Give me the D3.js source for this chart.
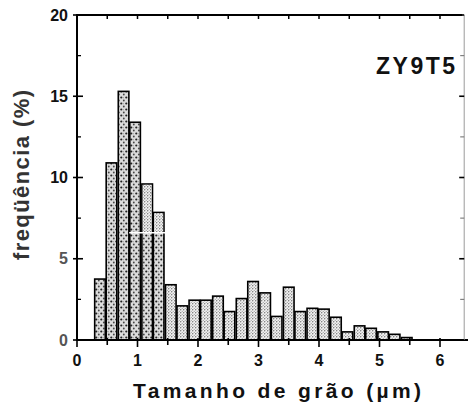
<!DOCTYPE html>
<html>
<head>
<meta charset="utf-8">
<script src="https://cdn.jsdelivr.net/npm/d3@7"></script>
<style>
  html, body { margin: 0; padding: 0; background: #fff; }
  svg { display: block; }
  text { font-family: "Liberation Sans", Arial, Helvetica, sans-serif; font-weight: bold; }
</style>
</head>
<body>
<svg id="chart" width="468" height="410"></svg>
<script>
// Grain-size histogram: bin centres (µm) and frequency (%) per bin
const binCentres = [0.38, 0.57, 0.77, 0.96, 1.16, 1.35, 1.55, 1.74, 1.94, 2.13,
                    2.33, 2.52, 2.72, 2.91, 3.11, 3.30, 3.50, 3.69, 3.89, 4.08,
                    4.28, 4.47, 4.67, 4.86, 5.06, 5.25, 5.45];
const frequency = [3.75, 10.9, 15.3, 13.4, 9.6, 7.85, 3.4, 2.1, 2.45, 2.45,
                   2.7, 1.75, 2.55, 3.6, 2.9, 1.45, 3.25, 1.75, 1.95, 1.9,
                   1.4, 0.5, 0.87, 0.72, 0.5, 0.35, 0.15];
const binWidth = 0.195;
const xTickValues = [0, 1, 2, 3, 4, 5, 6];
const xMinorTicks = [0.5, 1.5, 2.5, 3.5, 4.5, 5.5];
const yTickValues = [0, 5, 10, 15, 20];
const yMinorTicks = [2.5, 7.5, 12.5, 17.5];
const sampleLabel = "ZY9T5";
const xTitle = "Tamanho de grão (µm)";
const yTitle = "freqüência (%)";
// Bins printed with the coarse screen; the split ones only below splitLevel
const coarseBins = [0, 1, 2, 3];
const splitBins = [4, 5];
const splitLevel = 6.6;

const svg = d3.select("#chart");
const x = d3.scaleLinear().domain([0, 6.4]).range([77, 464.2]);
const y = d3.scaleLinear().domain([0, 20]).range([340, 15]);

// Stipple screens
const defs = svg.append("defs");
const fine = defs.append("pattern").attr("id", "fine")
  .attr("patternUnits", "userSpaceOnUse").attr("width", 3).attr("height", 3);
fine.append("rect").attr("width", 3).attr("height", 3).attr("fill", "#f2f2f2");
fine.append("circle").attr("cx", 0.75).attr("cy", 0.75).attr("r", 0.7).attr("fill", "#666");
fine.append("circle").attr("cx", 2.25).attr("cy", 2.25).attr("r", 0.6).attr("fill", "#888");

const coarse = defs.append("pattern").attr("id", "coarse")
  .attr("patternUnits", "userSpaceOnUse").attr("width", 5).attr("height", 6);
coarse.append("rect").attr("width", 5).attr("height", 6).attr("fill", "#dcdcdc");
coarse.append("circle").attr("cx", 1.3).attr("cy", 1.5).attr("r", 1.1).attr("fill", "#222");
coarse.append("circle").attr("cx", 3.8).attr("cy", 4.5).attr("r", 0.9).attr("fill", "#444");
coarse.append("circle").attr("cx", 3.5).attr("cy", 1.8).attr("r", 0.5).attr("fill", "#888");

const bins = binCentres.map((c, i) => ({ i, c, v: frequency[i] }));
const bw = x(binWidth) - x(0);

// Bars
svg.append("g").selectAll("rect").data(bins).join("rect")
  .attr("x", d => x(d.c - binWidth / 2) + 0.6)
  .attr("y", d => y(d.v))
  .attr("width", bw - 1.2)
  .attr("height", d => y(0) - y(d.v))
  .attr("fill", d => (coarseBins.includes(d.i) || splitBins.includes(d.i)) ? "url(#coarse)" : "url(#fine)")
  .attr("stroke", "#000")
  .attr("stroke-width", 1.6);

// Upper part of the split bins uses the fine screen
svg.append("g").selectAll("rect").data(bins.filter(d => splitBins.includes(d.i))).join("rect")
  .attr("x", d => x(d.c - binWidth / 2) + 1.4)
  .attr("y", d => y(d.v) + 0.8)
  .attr("width", bw - 2.8)
  .attr("height", d => y(splitLevel) - y(d.v) - 0.8)
  .attr("fill", "url(#fine)");

// Light seam across the split bins
const seamBins = bins.filter(d => d.i >= 3 && d.i <= 5);
svg.append("line")
  .attr("x1", x(seamBins[0].c - binWidth / 2))
  .attr("x2", x(seamBins[seamBins.length - 1].c + binWidth / 2) + 1)
  .attr("y1", y(splitLevel)).attr("y2", y(splitLevel))
  .attr("stroke", "#fff").attr("stroke-width", 1.4);

// Frame
const frame = svg.append("g").attr("stroke", "#000").attr("fill", "none");
frame.append("line").attr("x1", x(0)).attr("x2", x(0)).attr("y1", y(20) - 1).attr("y2", y(0) + 1).attr("stroke-width", 2);
frame.append("line").attr("x1", x(0)).attr("x2", 468).attr("y1", y(0)).attr("y2", y(0)).attr("stroke-width", 2.2);
frame.append("line").attr("x1", x(0)).attr("x2", x(6.4) - 2).attr("y1", y(20)).attr("y2", y(20)).attr("stroke-width", 2);
frame.append("line").attr("x1", x(6.4)).attr("x2", x(6.4)).attr("y1", y(20)).attr("y2", y(0))
  .attr("stroke", "#9a9a9a").attr("stroke-width", 1);

// Ticks
const ticks = svg.append("g").attr("stroke", "#000");
xTickValues.concat(xMinorTicks).forEach(v => {
  const major = xTickValues.includes(v);
  ticks.append("line").attr("x1", x(v)).attr("x2", x(v))
    .attr("y1", y(0) - 2).attr("y2", y(0) + (major ? 7 : 5)).attr("stroke-width", 1.6);
  ticks.append("line").attr("x1", x(v)).attr("x2", x(v))
    .attr("y1", y(20)).attr("y2", y(20) + 4).attr("stroke-width", 1.5);
});
yTickValues.forEach(v => {
  ticks.append("line").attr("x1", x(0) - 4).attr("x2", x(0) + 6)
    .attr("y1", y(v)).attr("y2", y(v)).attr("stroke-width", 1.6);
  ticks.append("line").attr("x1", x(6.4) - 5).attr("x2", x(6.4))
    .attr("y1", y(v)).attr("y2", y(v)).attr("stroke-width", 1.6);
});
yMinorTicks.forEach(v => {
  ticks.append("line").attr("x1", x(0)).attr("x2", x(0) + 4)
    .attr("y1", y(v)).attr("y2", y(v)).attr("stroke-width", 1.3);
  ticks.append("line").attr("x1", x(6.4) - 4).attr("x2", x(6.4))
    .attr("y1", y(v)).attr("y2", y(v)).attr("stroke-width", 1.1).attr("stroke", "#777");
});

// Tick labels
svg.append("g").selectAll("text").data(xTickValues).join("text")
  .attr("x", d => x(d)).attr("y", 366)
  .attr("text-anchor", "middle").attr("font-size", 16).attr("fill", "#111")
  .text(d => d);
svg.append("g").selectAll("text").data(yTickValues).join("text")
  .attr("x", x(0) - 9).attr("y", d => y(d) + 5.5)
  .attr("text-anchor", "end").attr("font-size", 16)
  .attr("fill", d => (d === 0 || d === 5) ? "#555" : "#111")
  .text(d => d);

// Titles
svg.append("text")
  .attr("x", 277).attr("y", 398)
  .attr("text-anchor", "middle").attr("font-size", 21).attr("fill", "#111")
  .attr("textLength", 288).attr("lengthAdjust", "spacing")
  .text(xTitle);
svg.append("text")
  .attr("transform", "translate(29,175) rotate(-90)")
  .attr("text-anchor", "middle").attr("font-size", 22).attr("fill", "#333")
  .attr("textLength", 170).attr("lengthAdjust", "spacing")
  .text(yTitle);
svg.append("text")
  .attr("x", 455).attr("y", 74)
  .attr("text-anchor", "end").attr("font-size", 23).attr("fill", "#111")
  .attr("textLength", 79).attr("lengthAdjust", "spacing")
  .text(sampleLabel);
</script>
</body>
</html>
